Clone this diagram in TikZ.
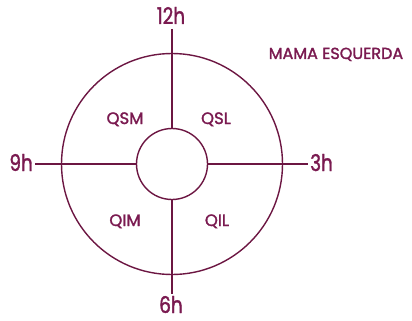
\documentclass[tikz,border=0pt]{standalone}
\usepackage{fontspec}
\setmainfont{Poppins}[FakeBold=1.7]
\newfontfamily\hourfont{Poppins}[FakeStretch=0.8,FakeBold=1.5]
\definecolor{linec}{RGB}{108,22,66}
\definecolor{textc}{RGB}{122,26,80}
\begin{document}
\begin{tikzpicture}[x=1pt,y=-1pt,
  ln/.style={draw=linec,line width=1.4pt},
  lab/.style={text=textc,font=\fontsize{16.5}{16.5}\selectfont,inner sep=0pt},
  hour/.style={text=textc,font=\hourfont\fontsize{23}{23}\selectfont,inner sep=0pt}]
\useasboundingbox (0,0) rectangle (412,321);
\node[circle,ln,minimum size=221pt,inner sep=0pt] (outer) at (172,164) {};
\node[circle,ln,minimum size=71pt,inner sep=0pt] (inner) at (172,164) {};
\coordinate (top) at (172,29);
\coordinate (bot) at (172,294);
\coordinate (lft) at (35,164);
\coordinate (rgt) at (308,164);
\draw[ln] (top) -- (inner.north);
\draw[ln] (inner.south) -- (bot);
\draw[ln] (lft) -- (inner.west);
\draw[ln] (inner.east) -- (rgt);
\node[hour,anchor=base] (h12) at (171,24) {12h};
\node[hour,anchor=base] (h6) at (171,313) {6h};
\node[hour,anchor=base east] (h9) at (33,171) {9h};
\node[hour,anchor=base west] (h3) at (310,171) {3h};
\node[lab,anchor=base] (qsm) at (125,124) {QSM};
\node[lab,anchor=base] (qsl) at (216,124) {QSL};
\node[lab,anchor=base] (qim) at (125,226) {QIM};
\node[lab,anchor=base] (qil) at (217,226) {QIL};
\node[text=textc,font=\fontsize{16}{16}\selectfont,inner sep=0pt,anchor=base] (mama) at (336,59) {MAMA ESQUERDA};
\end{tikzpicture}
\end{document}
